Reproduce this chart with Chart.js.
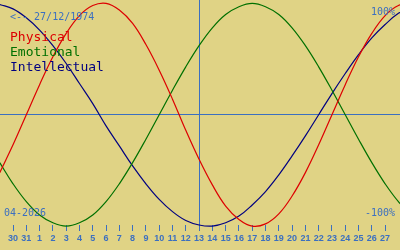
<!DOCTYPE html>
<html>
<head>
<meta charset="utf-8">
<script src="https://cdn.jsdelivr.net/npm/chart.js@4"></script>
<style>
  html, body { margin: 0; padding: 0; background: #e0d385; }
  #wrap { width: 400px; height: 250px; }
</style>
</head>
<body>
<div id="wrap"><canvas id="bioChart"></canvas></div>
<script>
// day positions (0 = 30 March), one extra day each side so the curves reach the edges
const days = [-1, 0, 1, 2, 3, 4, 5, 6, 7, 8, 9, 10, 11, 12, 13, 14, 15, 16, 17, 18, 19, 20, 21, 22, 23, 24, 25, 26, 27, 28, 29, 30];
const tickLabels = ['30', '31', '1', '2', '3', '4', '5', '6', '7', '8', '9', '10', '11', '12', '13', '14', '15', '16', '17', '18', '19', '20', '21', '22', '23', '24', '25', '26', '27'];

const physical = [-0.52, -0.27, 0, 0.27, 0.52, 0.73, 0.89, 0.98, 1.00, 0.94, 0.82, 0.63, 0.40, 0.14, -0.14, -0.40,
    -0.63, -0.82, -0.94, -1.00, -0.98, -0.89, -0.73, -0.52, -0.27, 0, 0.27, 0.52, 0.73, 0.89, 0.98, 1.00];
const emotional = [-0.43, -0.62, -0.78, -0.90, -0.97, -1.00, -0.97, -0.90, -0.78, -0.62, -0.43, -0.22, 0, 0.22, 0.43, 0.62,
    0.78, 0.90, 0.97, 1.00, 0.97, 0.90, 0.78, 0.62, 0.43, 0.22, 0, -0.22, -0.43, -0.62, -0.78, -0.90];
const intellectual = [0.99, 0.95, 0.87, 0.76, 0.62, 0.46, 0.28, 0.10, -0.10, -0.28, -0.46, -0.62, -0.76, -0.87, -0.95, -0.99,
    -1.00, -0.97, -0.91, -0.81, -0.69, -0.54, -0.37, -0.19, 0, 0.19, 0.37, 0.54, 0.69, 0.81, 0.91, 0.97];

const todayIndex = 14; // 13 April
const blue = '#3b6fc0';

function points(values) {
    return days.map((d, i) => ({ x: d, y: values[i] }));
}

function line(label, values, color) {
    return {
        label: label,
        data: points(values),
        borderColor: color,
        backgroundColor: 'transparent',
        borderWidth: 1.2,
        pointRadius: 0,
        tension: 0.4,
        clip: false
    };
}

// crisp 1px cross at today / zero, placed through the scales
const crossPlugin = {
    id: 'cross',
    beforeDatasetsDraw(chart) {
        const c = chart.ctx;
        const a = chart.chartArea;
        const px = Math.floor(chart.scales.x.getPixelForValue(todayIndex)) + 0.5;
        const py = Math.floor(chart.scales.y.getPixelForValue(0)) + 0.5;
        c.save();
        c.strokeStyle = blue;
        c.lineWidth = 1;
        c.beginPath();
        c.moveTo(a.left, py);
        c.lineTo(a.right, py);
        c.moveTo(px, a.top);
        c.lineTo(px, a.bottom);
        c.stroke();
        c.restore();
    }
};

const textPlugin = {
    id: 'bioText',
    afterDraw(chart) {
        const c = chart.ctx;
        c.save();
        c.textBaseline = 'middle';
        c.font = '10px "DejaVu Sans Mono"';
        c.fillStyle = blue;
        c.textAlign = 'left';
        c.fillText('<-- 27/12/1974', 10, 17);
        c.fillText('04-2026', 4, 213);
        c.textAlign = 'right';
        c.fillText('100%', 395, 12);
        c.fillText('-100%', 395, 213);

        c.textAlign = 'left';
        c.font = '13px "DejaVu Sans Mono"';
        c.fillStyle = '#dd0000';
        c.fillText('Physical', 10, 38);
        c.fillStyle = '#007000';
        c.fillText('Emotional', 10, 53);
        c.fillStyle = '#000080';
        c.fillText('Intellectual', 10, 68);
        c.restore();
    }
};

new Chart(document.getElementById('bioChart').getContext('2d'), {
    type: 'line',
    data: {
        datasets: [
            line('Physical', physical, '#dd0000'),
            line('Emotional', emotional, '#007000'),
            line('Intellectual', intellectual, '#000080')
        ]
    },
    options: {
        responsive: true,
        maintainAspectRatio: false,
        animation: false,
        layout: { padding: 0 },
        scales: {
            x: {
                type: 'linear',
                min: -0.98,
                max: 29.12,
                afterBuildTicks: (s) => { s.ticks = tickLabels.map((t, i) => ({ value: i })); },
                afterFit: (s) => { s.height = 25; },
                border: { display: false },
                grid: {
                    drawOnChartArea: false,
                    tickColor: blue,
                    tickLength: 6,
                    lineWidth: 1
                },
                ticks: {
                    autoSkip: false,
                    maxRotation: 0,
                    padding: 2,
                    color: blue,
                    font: { family: 'Liberation Sans', size: 9, weight: 'bold' },
                    callback: (v) => tickLabels[v]
                }
            },
            y: {
                display: false,
                min: -0.99,
                max: 1.03
            }
        },
        plugins: {
            legend: { display: false },
            tooltip: { enabled: false }
        }
    },
    plugins: [crossPlugin, textPlugin]
});
</script>
</body>
</html>
